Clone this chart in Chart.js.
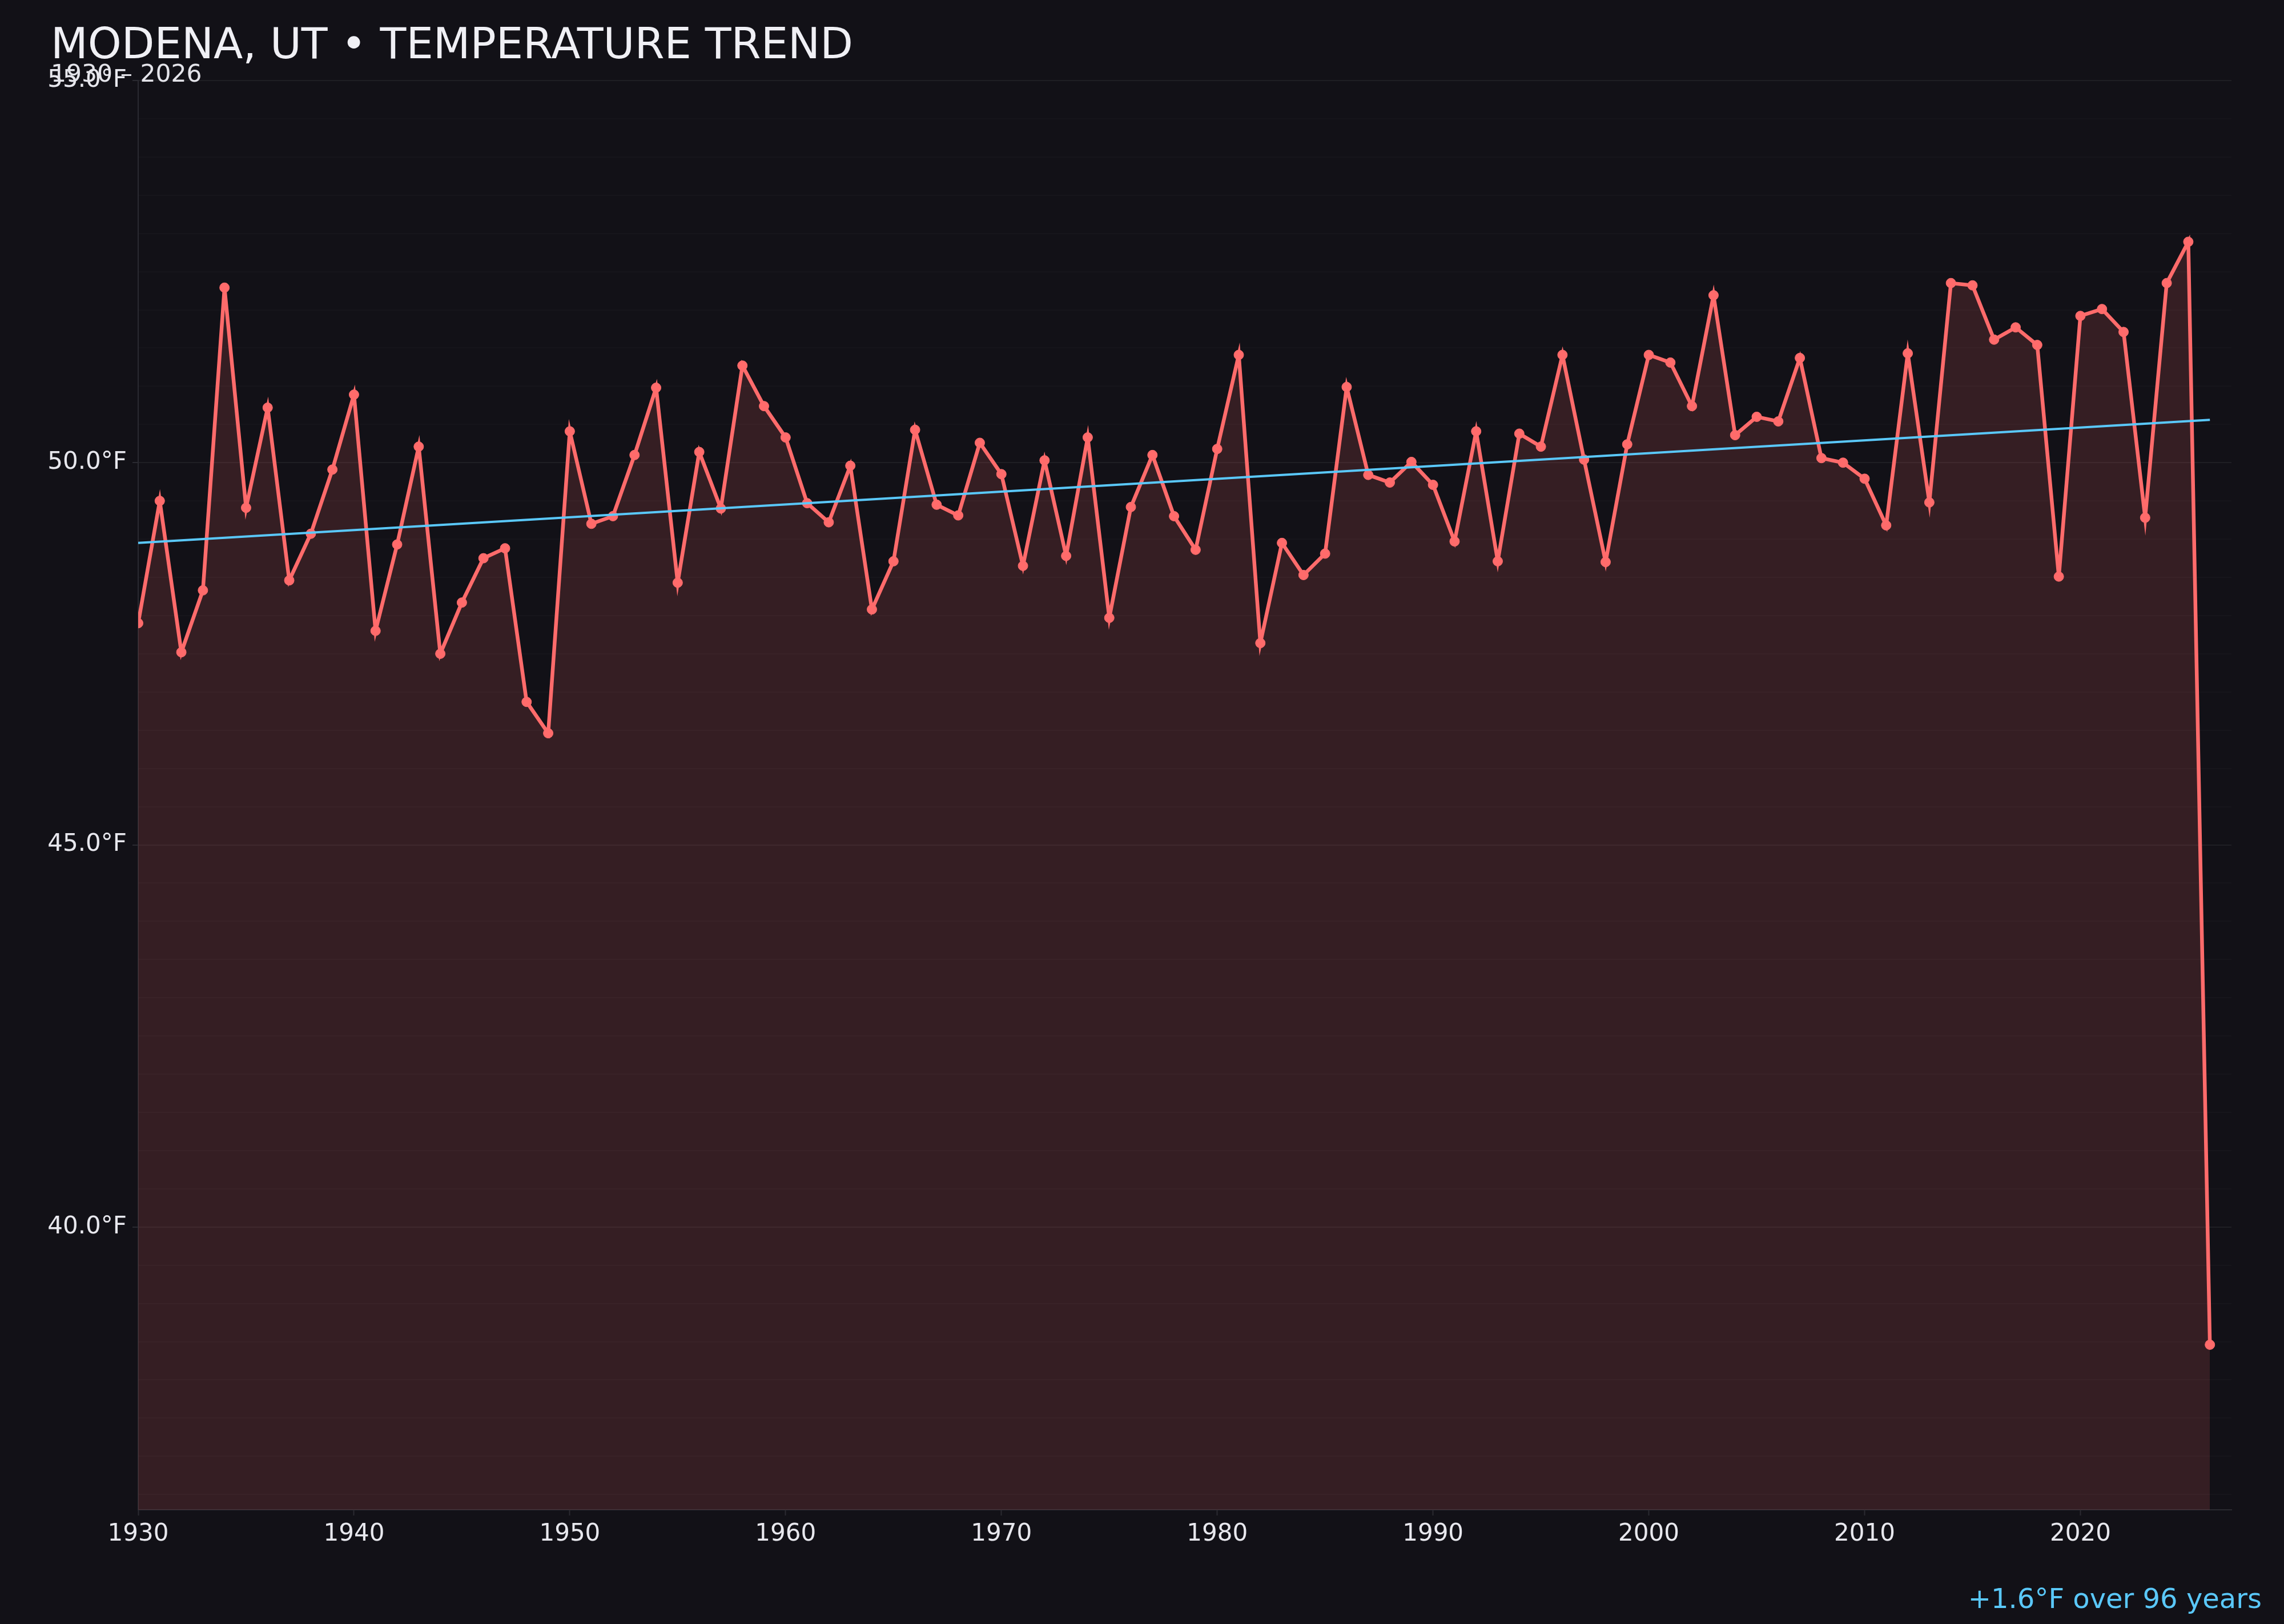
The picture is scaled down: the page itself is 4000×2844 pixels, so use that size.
<!DOCTYPE html>
<html>
<head>
<meta charset="utf-8">
<script src="https://cdn.jsdelivr.net/npm/chart.js@4.4.1/dist/chart.umd.min.js"></script>
<style>
    html, body { margin: 0; padding: 0; background: #121117; }
    #wrap { width: 4000px; height: 2844px; }
</style>
</head>
<body>
<div id="wrap"><canvas id="chart" width="4000" height="2844"></canvas></div>
<script>
// annual mean temperature
const startYear = 1930;
const temps = [
    47.90, 49.50, 47.52, 48.33, 52.29, 49.41, 50.72, 48.46, 49.07, 49.91,
    50.89, 47.80, 48.93, 50.21, 47.50, 48.17, 48.75, 48.88, 46.87, 46.46,
    50.41, 49.20, 49.30, 50.10, 50.98, 48.43, 50.14, 49.40, 51.27, 50.74,
    50.33, 49.47, 49.22, 49.96, 48.08, 48.71, 50.43, 49.45, 49.31, 50.26,
    49.85, 48.65, 50.03, 48.78, 50.33, 47.97, 49.42, 50.10, 49.30, 48.86,
    50.18, 51.41, 47.64, 48.95, 48.53, 48.81, 50.99, 49.84, 49.74, 50.01,
    49.71, 48.97, 50.41, 48.71, 50.38, 50.21, 51.41, 50.04, 48.70, 50.24,
    51.41, 51.31, 50.74, 52.19, 50.36, 50.60, 50.54, 51.37, 50.06, 50.00,
    49.79, 49.18, 51.43, 49.48, 52.35, 52.32, 51.61, 51.77, 51.54, 48.51,
    51.92, 52.01, 51.71, 49.28, 52.35, 52.89, 38.46,
];
const years = temps.map((_, i) => startYear + i);

const trendYears = [1930, 2026];
const trendValues = [48.95, 50.56];

const xTicks = [1930, 1940, 1950, 1960, 1970, 1980, 1990, 2000, 2010, 2020];
const yTicks = [40, 45, 50, 55];
const yMin = 36.3;
const yMax = 55;
const minorStep = 0.5;

const titleText = 'MODENA, UT \u2022 TEMPERATURE TREND';
const subtitleText = '1930 \u2013 2026';
const noteText = '+1.6\u00B0F over 96 years';

const FONT = '"DejaVu Sans", "Noto Sans", sans-serif';
const axisColor = '#2a2a31';
const isMajor = (v) => yTicks.some(t => Math.abs(t - v) < 1e-6);

// faint half-degree grid, labels only on the major ticks
const yGrid = [];
for (let v = Math.ceil(yMin / minorStep) * minorStep; v <= yMax + 1e-6; v += minorStep) {
    yGrid.push(Math.round(v * 10) / 10);
}

// title, range and trend note are drawn straight onto the canvas
const overlayText = {
    id: 'overlayText',
    afterDraw(chart) {
        const ctx = chart.ctx;
        ctx.save();
        ctx.textBaseline = 'alphabetic';
        ctx.textAlign = 'left';
        ctx.fillStyle = '#f0f0f5';
        ctx.font = `75px ${FONT}`;
        ctx.fillText(titleText, 89, 102);
        ctx.fillStyle = '#e4e4ea';
        ctx.font = `42.5px ${FONT}`;
        ctx.fillText(subtitleText, 89, 143);
        ctx.textAlign = 'right';
        ctx.fillStyle = '#5ac8fa';
        ctx.font = `48px ${FONT}`;
        ctx.fillText(noteText, 3961, 2816);
        ctx.restore();
    },
};

new Chart(document.getElementById('chart'), {
    type: 'line',
    data: {
        datasets: [
            {
                label: 'Annual mean',
                data: years.map((y, i) => ({ x: y, y: temps[i] })),
                borderColor: '#ff6b6b',
                backgroundColor: 'rgba(255, 107, 107, 0.15)',
                borderWidth: 6.5,
                pointRadius: 8.5,
                pointBorderWidth: 1,
                pointBackgroundColor: '#ff6b6b',
                pointBorderColor: '#ff6b6b',
                tension: 0,
                fill: 'start',
                order: 2,
            },
            {
                label: 'Trend',
                data: trendYears.map((y, i) => ({ x: y, y: trendValues[i] })),
                borderColor: '#5ac8fa',
                borderWidth: 4,
                pointRadius: 0,
                fill: false,
                order: 1,
            },
        ],
    },
    options: {
        responsive: false,
        devicePixelRatio: 1,
        animation: false,
        layout: {
            padding: { top: 141, right: 92, bottom: 120, left: 0 },
        },
        plugins: {
            legend: { display: false },
            tooltip: { enabled: false },
        },
        scales: {
            x: {
                type: 'linear',
                min: 1930,
                max: 2027,
                afterBuildTicks: (axis) => { axis.ticks = xTicks.map(v => ({ value: v })); },
                afterFit: (axis) => { axis.height = 80; },
                grid: {
                    drawOnChartArea: false,
                    drawTicks: true,
                    tickLength: 10,
                    tickWidth: 2,
                    color: axisColor,
                },
                border: { color: axisColor, width: 2 },
                ticks: {
                    color: '#e8e8ee',
                    font: { family: FONT, size: 42 },
                    padding: 8,
                    maxRotation: 0,
                    autoSkip: false,
                    callback: (v) => String(v),
                },
            },
            y: {
                min: yMin,
                max: yMax,
                afterBuildTicks: (axis) => { axis.ticks = yGrid.map(v => ({ value: v })); },
                afterFit: (axis) => { axis.width = 242; },
                grid: {
                    color: (c) => isMajor(c.tick.value) ? 'rgba(255, 255, 255, 0.06)' : 'rgba(255, 255, 255, 0.018)',
                    lineWidth: 2,
                    drawTicks: true,
                    tickLength: 10,
                    tickColor: (c) => isMajor(c.tick.value) ? axisColor : 'rgba(0, 0, 0, 0)',
                },
                border: { color: axisColor, width: 2 },
                ticks: {
                    color: '#e8e8ee',
                    font: { family: FONT, size: 42 },
                    padding: 10,
                    autoSkip: false,
                    callback: (v) => isMajor(v) ? v.toFixed(1) + '\u00B0F' : '',
                },
            },
        },
    },
    plugins: [overlayText],
});
</script>
</body>
</html>
